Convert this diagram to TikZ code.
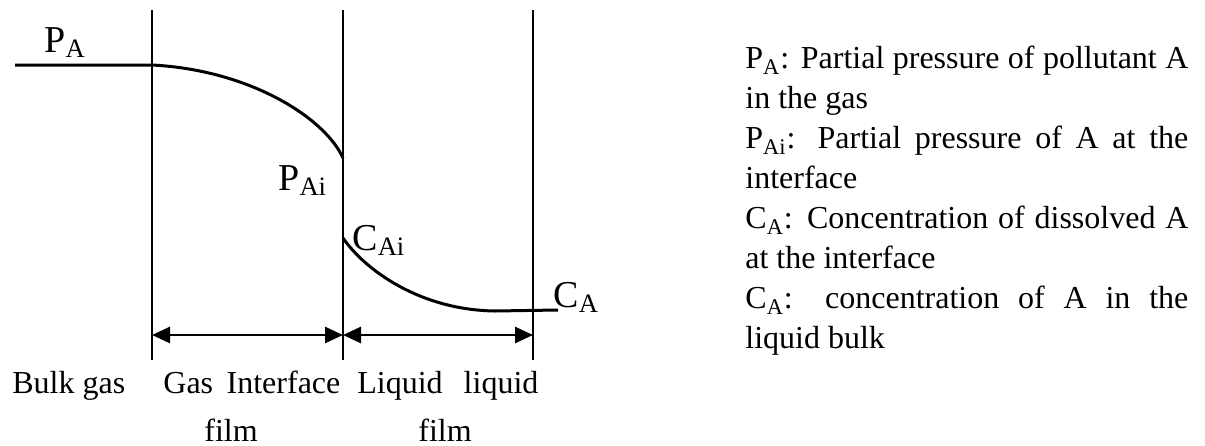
\documentclass[tikz,border=0pt]{standalone}
\usepackage{fontspec}
\setmainfont{Liberation Serif}
\usetikzlibrary{arrows.meta, positioning, calc}
\tikzset{
  wall/.style={line width=1.2pt,draw=black},
  profile/.style={line width=1.5pt,draw=black},
  span/.style={{Triangle[length=9pt,width=8pt]}-{Triangle[length=9pt,width=8pt]},
    line width=1.4pt,draw=black},
  lbl/.style={inner sep=0pt,anchor=base west,font=\fontsize{16}{18}\selectfont},
  biglbl/.style={inner sep=0pt,anchor=base west,font=\fontsize{19}{22}\selectfont},
  legend/.style={inner sep=0pt,anchor=north west,text width=221.5pt,align=justify,
    font=\fontsize{16}{20}\selectfont}
}

\begin{document}
\begin{tikzpicture}[x=0.5pt,y=-0.5pt]
  \useasboundingbox (0,0) rectangle (1205,445);
  % film boundaries
  \coordinate (gtop) at (152,10);  \coordinate (gbot) at (152,360);
  \coordinate (itop) at (343,10);  \coordinate (ibot) at (343,360);
  \coordinate (ltop) at (533,10);  \coordinate (lbot) at (533,360);
  \draw[wall] (gtop) -- (gbot);
  \draw[wall] (itop) -- (ibot);
  \draw[wall] (ltop) -- (lbot);
  % film thickness arrows
  \coordinate (garr) at (152,335);
  \coordinate (iarr) at (343,335);
  \coordinate (larr) at (533,335);
  \draw[span] (garr) -- (iarr);
  \draw[span] (iarr) -- (larr);
  % concentration profile
  \coordinate (pbulk) at (15,65);
  \coordinate (pwall) at (152,65);
  \coordinate (pint) at (343,158);
  \coordinate (cint) at (343,238);
  \coordinate (cbend) at (495,311);
  \coordinate (cbulk) at (558,310);
  \draw[profile] (pbulk) -- (pwall) .. controls (250,70) and (325,118) .. (pint);
  \draw[profile] (cint) .. controls (365,270) and (420,310) .. (cbend) -- (cbulk);
  % labels
  \node[biglbl] (pa) at (44,52) {P\textsubscript{A}};
  \node[biglbl] (pai) at (278,190) {P\textsubscript{Ai}};
  \node[biglbl] (cai) at (352,250) {C\textsubscript{Ai}};
  \node[biglbl] (ca) at (553,307) {C\textsubscript{A}};
  \node[lbl] (bulk) at (12,393) {Bulk gas};
  \node[lbl,text width=88.5pt] (gasfilm) at (163,393) {Gas\hfill Interface};
  \node[lbl,text width=90.5pt] (liqfilm) at (357,393) {Liquid\hfill liquid};
  \node[lbl] (film1) at (204,441) {film};
  \node[lbl] (film2) at (418,441) {film};
  % legend
  \node[legend] (key) at (745,46) {%
    P\textsubscript{A}: Partial pressure of pollutant A\linebreak in the gas\par
    P\textsubscript{Ai}: Partial pressure of A at the\linebreak interface\par
    C\textsubscript{A}: Concentration of dissolved A\linebreak at the interface\par
    C\textsubscript{A}: concentration of A in the\linebreak liquid bulk};
\end{tikzpicture}
\end{document}
